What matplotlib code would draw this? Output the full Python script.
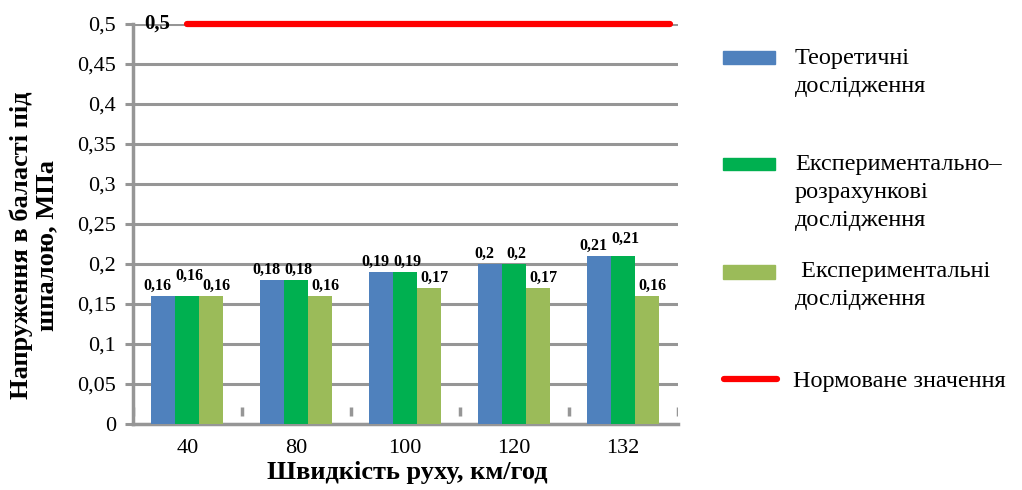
import matplotlib
matplotlib.use("Agg")
import matplotlib.pyplot as plt
from matplotlib.patches import Rectangle
from matplotlib.lines import Line2D
import numpy as np

plt.rcParams['font.family'] = ['Liberation Serif', 'DejaVu Serif']

# Data
speeds = ["40", "80", "100", "120", "132"]
theoretical = [0.16, 0.18, 0.19, 0.2, 0.21]
exp_calc = [0.16, 0.18, 0.19, 0.2, 0.21]
experimental = [0.16, 0.16, 0.17, 0.17, 0.16]
norm_value = 0.5

series_names = ["Теоретичні\nдослідження",
                "Експериментально–\nрозрахункові\nдослідження",
                " Експериментальні\nдослідження"]
norm_name = "Нормоване значення"
yticks = [0, 0.05, 0.1, 0.15, 0.2, 0.25, 0.3, 0.35, 0.4, 0.45, 0.5]

colors = ["#4F81BD", "#00B050", "#9BBB59"]
red = "#FF0000"
grid_col = "#969696"


def comma(v):
    return f"{v:g}".replace(".", ",")


fig = plt.figure(figsize=(10.22, 4.90), dpi=100)
ax = fig.add_axes([0.130, 0.1347, 0.533, 0.8163])

x = np.arange(len(speeds))
w = 0.22
# extra lift for a few value labels so neighbours do not collide
label_raise = [[0, 0, 0, 0, 0],
               [0.012, 0, 0, 0, 0.008],
               [0, 0, 0, 0, 0]]
label_shift = [-0.05, 0.02, 0.05]
for i, vals in enumerate([theoretical, exp_calc, experimental]):
    pos = x + (i - 1) * w
    ax.bar(pos, vals, width=w, color=colors[i], zorder=3)
    for j, (p, v) in enumerate(zip(pos, vals)):
        ax.text(p + label_shift[i], v + 0.003 + label_raise[i][j], comma(v),
                ha="center", va="bottom", fontsize=11.5, fontweight="bold", zorder=5)

# Normative level line
ax.plot([0, 4.43], [norm_value, norm_value], color=red, lw=4.5,
        solid_capstyle="round", zorder=4, clip_on=False)
ax.text(-0.28, norm_value, comma(norm_value), ha="center", va="center",
        fontsize=15, fontweight="bold", zorder=5)

# Small category separators near the base
bounds = np.arange(len(speeds) + 1) - 0.5
ax.vlines(bounds, 0.010, 0.021, color=grid_col, lw=2.5, zorder=2)

ax.set_xlim(-0.5, len(speeds) - 0.5)
ax.set_ylim(0, 0.5)
ax.set_yticks(yticks)
ax.set_yticklabels([comma(t) for t in yticks], fontsize=16)
ax.set_xticks(x)
ax.set_xticklabels(speeds, fontsize=16)
ax.tick_params(axis="x", length=0, pad=11)
ax.tick_params(axis="y", length=6, width=2.2, color=grid_col, pad=6)
ax.yaxis.grid(True, color=grid_col, lw=2.2, zorder=1)
ax.set_axisbelow(True)
for s in ["top", "right"]:
    ax.spines[s].set_visible(False)
for s in ["left", "bottom"]:
    ax.spines[s].set_color(grid_col)
    ax.spines[s].set_linewidth(2.5)

ax.set_xlabel("Швидкість руху, км/год", fontsize=19, fontweight="bold")
ax.xaxis.set_label_coords(0.503, -0.1225)
ax.xaxis.label.set_va("center")
ax.set_ylabel("Напруження в баласті під\nшпалою, МПа", fontsize=19,
              fontweight="bold", linespacing=1.1)
ax.yaxis.set_label_coords(-0.182, 0.4475)
ax.yaxis.label.set_va("center")

# Legend on the right
W, H = 1022, 490


def fx(px):
    return px / W


def fy(py):
    return 1 - py / H


patch_rows = [(51, 64), (158, 170), (265, 279)]
text_first = [62, 168, 275]
for (top, bot), col, name, ty in zip(patch_rows, colors, series_names, text_first):
    fig.add_artist(Rectangle((fx(723), fy(bot)), fx(775) - fx(723), fy(top) - fy(bot),
                             transform=fig.transFigure, color=col))
    fig.text(fx(795), fy(ty - 14), name, ha="left", va="top", fontsize=17.5,
             linespacing=1.45)
fig.add_artist(Line2D([fx(724), fx(777)], [fy(379), fy(379)], transform=fig.transFigure,
                      color=red, lw=4.5, solid_capstyle="round"))
fig.text(fx(793), fy(381), norm_name, ha="left", va="center", fontsize=17.5)

fig.savefig("out.png", dpi=100)
